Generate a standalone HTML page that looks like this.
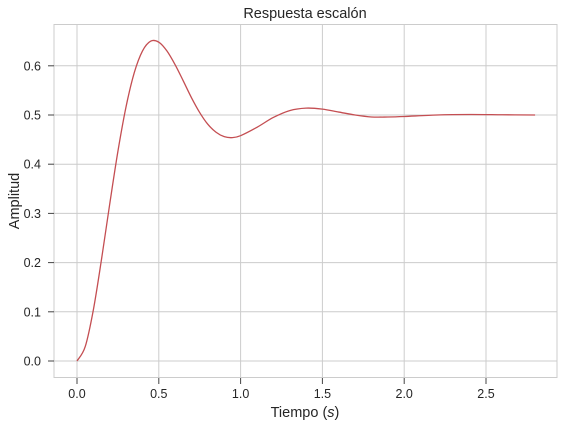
<!DOCTYPE html>
<html><head><meta charset="utf-8">
<style>
body{margin:0;background:#fff;}
svg text{font-family:"Liberation Sans","DejaVu Sans",sans-serif;fill:#262626;}
</style></head>
<body>
<svg id="chart" width="569" height="430" xmlns="http://www.w3.org/2000/svg">
<rect width="569" height="430" fill="#fff"/>
<g id="grid"></g>
<rect x="54" y="24.5" width="503" height="353" fill="none" stroke="#cccccc" stroke-width="1"/>
<g id="ticks"></g>
<path id="curve" fill="none" stroke="#c44e52" stroke-width="1.3"/>
<text x="305" y="18" text-anchor="middle" font-size="14.5">Respuesta escalón</text>
<text x="305" y="417" text-anchor="middle" font-size="14.5">Tiempo (<tspan font-style="italic">s</tspan>)</text>
<text x="19" y="201" text-anchor="middle" font-size="14.5" transform="rotate(-90 19 201)">Amplitud</text>
</svg>
<script>
const times=[0,0.05,0.1,0.15,0.2,0.25,0.3,0.35,0.4,0.45,0.5,0.55,0.6,0.65,0.7,0.75,0.8,0.85,0.9,0.95,1.0,1.1,1.2,1.3,1.4,1.5,1.6,1.7,1.8,1.9,2.0,2.2,2.4,2.6,2.8];
const amplitudes=[0,0.029,0.104,0.207,0.319,0.426,0.517,0.586,0.630,0.650,0.648,0.630,0.602,0.569,0.535,0.505,0.481,0.465,0.456,0.454,0.458,0.475,0.495,0.509,0.514,0.512,0.506,0.500,0.496,0.496,0.497,0.500,0.501,0.5005,0.500];
const xTicks=[0,0.5,1.0,1.5,2.0,2.5];
const xTickLabels=["0.0","0.5","1.0","1.5","2.0","2.5"];
const yTicks=[0,0.1,0.2,0.3,0.4,0.5,0.6];
const yTickLabels=["0.0","0.1","0.2","0.3","0.4","0.5","0.6"];

const X=t=>77+t*163.6;
const Y=v=>361-v*492;
const NS="http://www.w3.org/2000/svg";
const grid=document.getElementById('grid'),ticks=document.getElementById('ticks');
function mk(tag,attrs,parent){const e=document.createElementNS(NS,tag);for(const k in attrs)e.setAttribute(k,attrs[k]);parent.appendChild(e);return e;}
xTicks.forEach((t,i)=>{
  const g=mk('line',{x1:X(t),x2:X(t),y1:24.5,y2:377.5,stroke:'#cccccc','stroke-width':1},grid);
  
  
  const tk=mk('line',{x1:X(t),x2:X(t),y1:378,y2:384,stroke:'#444','stroke-width':1},ticks);
  
  
  const tx=mk('text',{x:X(t),y:398,'text-anchor':'middle','font-size':12.5},ticks);
  tx.textContent=xTickLabels[i];
  
  
});
yTicks.forEach((v,i)=>{
  const g=mk('line',{x1:54,x2:557,y1:Y(v),y2:Y(v),stroke:'#cccccc','stroke-width':1},grid);
  
  
  const tk=mk('line',{x1:48,x2:54,y1:Y(v),y2:Y(v),stroke:'#444','stroke-width':1},ticks);
  
  
  const tx=mk('text',{x:41,y:Y(v)+4.5,'text-anchor':'end','font-size':12.5},ticks);
  tx.textContent=yTickLabels[i];
  
  
});
const pts=times.map((t,i)=>[X(t),Y(amplitudes[i])]);
let d='M'+pts[0][0]+','+pts[0][1];
for(let i=0;i<pts.length-1;i++){
  const p0=pts[Math.max(i-1,0)],p1=pts[i],p2=pts[i+1],p3=pts[Math.min(i+2,pts.length-1)];
  const c1=[p1[0]+(p2[0]-p0[0])/6,p1[1]+(p2[1]-p0[1])/6];
  const c2=[p2[0]-(p3[0]-p1[0])/6,p2[1]-(p3[1]-p1[1])/6];
  d+=` C${c1[0]},${c1[1]} ${c2[0]},${c2[1]} ${p2[0]},${p2[1]}`;
}
document.getElementById('curve').setAttribute('d',d);
</script>
</body></html>
